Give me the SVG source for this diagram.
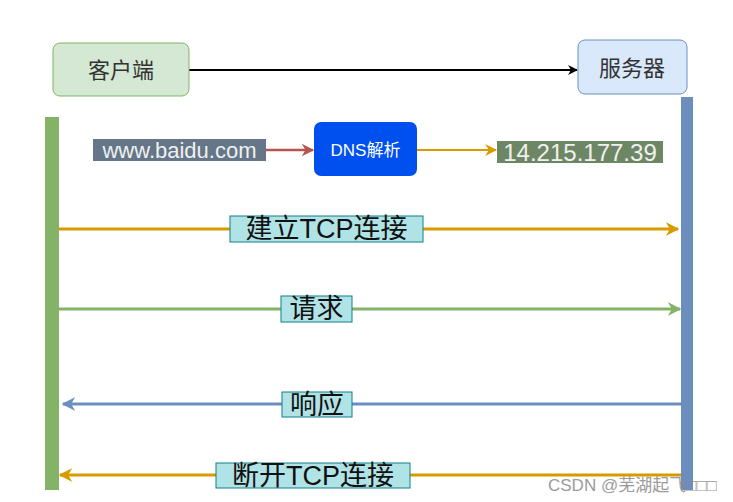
<svg xmlns="http://www.w3.org/2000/svg" width="733" height="502" viewBox="0 0 733 502">
<style>
.t{font-family:"Liberation Sans","Noto Sans CJK SC",sans-serif;}
.lbl{fill:#b0e3e6;stroke:#0e8088;stroke-width:1;}
.big{font-size:27px;fill:#111;text-anchor:middle;dominant-baseline:central;}
</style>
<defs>
<marker id="mBlack" viewBox="0 0 10 10" refX="9" refY="5" markerWidth="5" markerHeight="5" orient="auto" markerUnits="strokeWidth"><path d="M0,0 L10,5 L0,10 L3,5 Z" fill="#000"/></marker>
<marker id="mRed" viewBox="0 0 10 10" refX="9" refY="5" markerWidth="5" markerHeight="5" orient="auto" markerUnits="strokeWidth"><path d="M0,0 L10,5 L0,10 L3,5 Z" fill="#b85450"/></marker>
<marker id="mOr2" viewBox="0 0 10 10" refX="9" refY="5" markerWidth="6" markerHeight="6" orient="auto" markerUnits="strokeWidth"><path d="M0,0 L10,5 L0,10 L3,5 Z" fill="#d79b00"/></marker>
<marker id="mOr" viewBox="0 0 10 10" refX="9" refY="5" markerWidth="4.5" markerHeight="4.5" orient="auto" markerUnits="strokeWidth"><path d="M0,0 L10,5 L0,10 L3,5 Z" fill="#d79b00"/></marker>
<marker id="mGr" viewBox="0 0 10 10" refX="9" refY="5" markerWidth="4.5" markerHeight="4.5" orient="auto" markerUnits="strokeWidth"><path d="M0,0 L10,5 L0,10 L3,5 Z" fill="#82b366"/></marker>
<marker id="mBl" viewBox="0 0 10 10" refX="9" refY="5" markerWidth="4.5" markerHeight="4.5" orient="auto" markerUnits="strokeWidth"><path d="M0,0 L10,5 L0,10 L3,5 Z" fill="#6c8ebf"/></marker>
</defs>
<rect width="733" height="502" fill="#fff"/>
<g id="connectors" fill="none">
<line x1="189" y1="70" x2="577" y2="70" stroke="#000" stroke-width="2" marker-end="url(#mBlack)"/>
<line x1="266" y1="150" x2="313" y2="150" stroke="#b85450" stroke-width="2.5" marker-end="url(#mRed)"/>
<line x1="417" y1="150" x2="496" y2="150" stroke="#d79b00" stroke-width="2" marker-end="url(#mOr2)"/>
<line x1="59" y1="229" x2="678" y2="229" stroke="#d79b00" stroke-width="3" marker-end="url(#mOr)"/>
<line x1="59" y1="309" x2="680" y2="309" stroke="#82b366" stroke-width="3" marker-end="url(#mGr)"/>
<line x1="681" y1="404" x2="63" y2="404" stroke="#6c8ebf" stroke-width="3" marker-end="url(#mBl)"/>
<line x1="681" y1="475" x2="60" y2="475" stroke="#d79b00" stroke-width="3" marker-end="url(#mOr)"/>
</g>
<g id="client"><rect x="53" y="43" width="136" height="53" rx="7" fill="#d5e8d4" stroke="#82b366" stroke-width="1"/><text class="t" x="121" y="70" font-size="22" fill="#333" text-anchor="middle" dominant-baseline="central">客户端</text></g>
<g id="server"><rect x="578" y="40" width="109" height="54" rx="7" fill="#dae8fc" stroke="#6c8ebf" stroke-width="1"/><text class="t" x="632" y="68" font-size="22" fill="#333" text-anchor="middle" dominant-baseline="central">服务器</text></g>
<g id="clientLifeline"><rect x="45" y="117" width="14" height="373" fill="#82b366"/></g>
<g id="serverLifeline"><rect x="681" y="97" width="12" height="393" fill="#6c8ebf"/></g>
<g id="url"><rect x="93" y="139" width="173" height="22" fill="#647687"/><text class="t" x="179.5" y="150" font-size="22" fill="#f0f0f0" text-anchor="middle" dominant-baseline="central">www.baidu.com</text></g>
<g id="dns"><rect x="314" y="122" width="103" height="54" rx="7" fill="#0050ef"/><text class="t" x="365.5" y="150" font-size="17" fill="#fff" text-anchor="middle" dominant-baseline="central">DNS解析</text></g>
<g id="ip"><rect x="497" y="141" width="166" height="22" fill="#6d8764"/><text class="t" x="580" y="152" font-size="24" fill="#f0f0f0" text-anchor="middle" dominant-baseline="central">14.215.177.39</text></g>
<g id="lblConnect"><rect class="lbl" x="230" y="216" width="193" height="26"/><text class="t big" x="326.5" y="229">建立TCP连接</text></g>
<g id="lblRequest"><rect class="lbl" x="281" y="296" width="71" height="26"/><text class="t big" x="316.5" y="309">请求</text></g>
<g id="lblResponse"><rect class="lbl" x="282" y="392" width="70" height="25"/><text class="t big" x="317" y="404.5">响应</text></g>
<g id="lblClose"><rect class="lbl" x="216" y="463" width="194" height="25"/><text class="t big" x="313" y="475.5">断开TCP连接</text></g>
<text class="t" x="548" y="491" font-size="17" fill="#8a8a8a" opacity="0.85">CSDN @芜湖起飞□□□</text>
</svg>
